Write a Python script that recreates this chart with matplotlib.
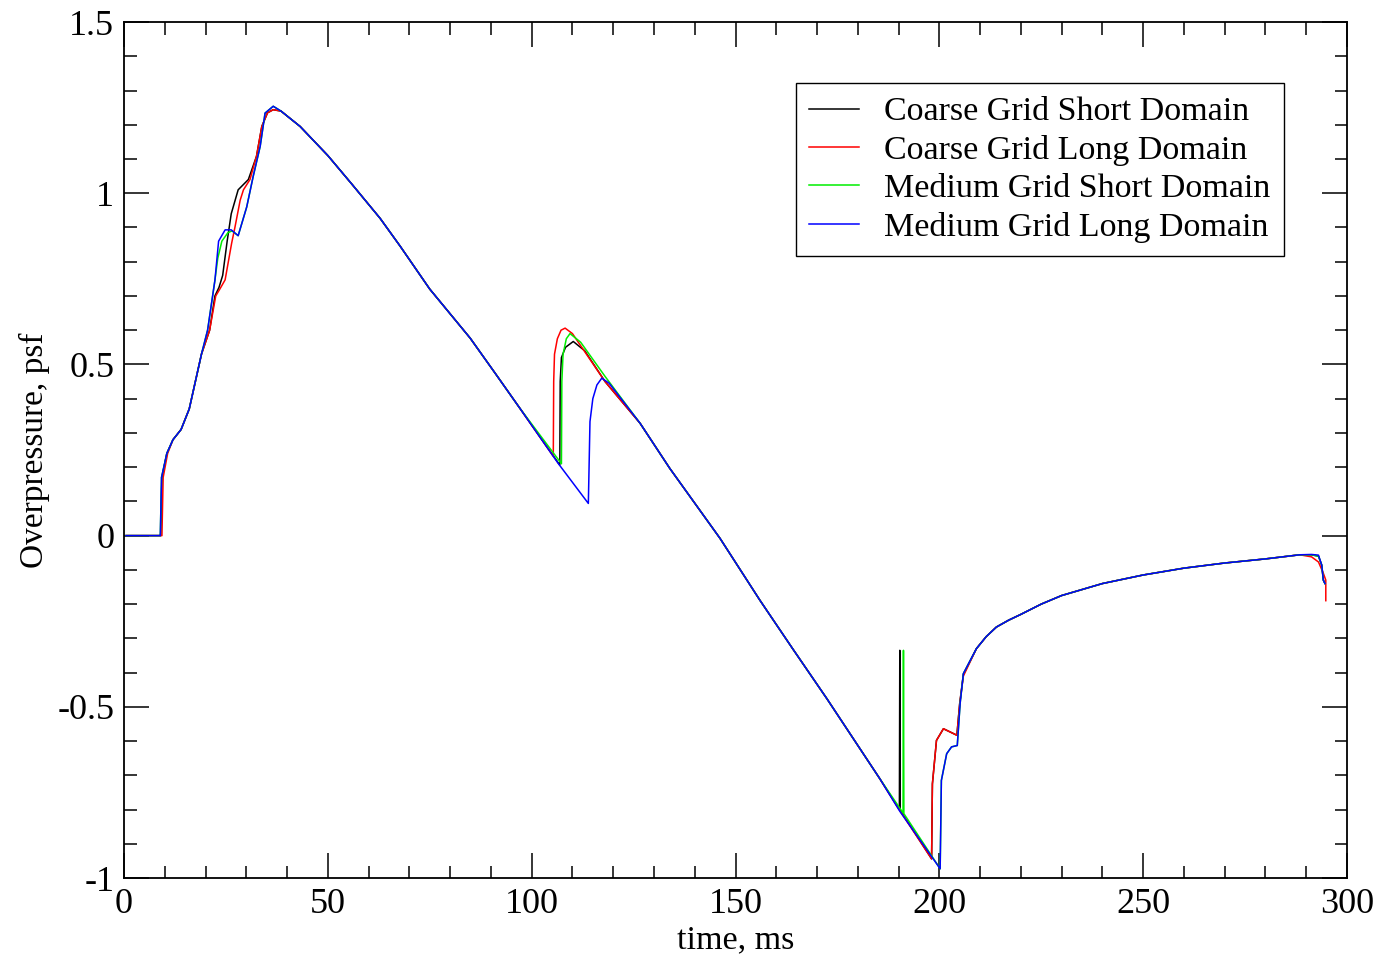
import numpy as np
import matplotlib
matplotlib.use('Agg')
import matplotlib.pyplot as plt
from matplotlib.ticker import MultipleLocator

# --- Dados (tempo em ms, sobrepressão em psf) ---

# troço inicial comum (antes da chegada da onda)
t_start = [0.5, 8.8]
p_start = [0.0, 0.0]

# descida comum depois do pico principal
t_desc1 = [38.5, 43.2, 50.0, 56.0, 62.8, 67.7, 75.0, 84.9, 91.0, 97.1]
p_desc1 = [1.240, 1.195, 1.110, 1.025, 0.927, 0.846, 0.720, 0.577, 0.475, 0.372]

# descida comum depois do segundo pulso
t_desc2 = [126.6, 133.9, 146.2, 156.0, 164.0, 172.4, 185.4]
p_desc2 = [0.328, 0.196, -0.008, -0.189, -0.330, -0.476, -0.710]

# recuperação comum (fase negativa)
t_tail = [209.1, 211.5, 214.0, 217.0, 220.0, 225.0, 230.0, 240.0, 250.0, 260.0,
          270.0, 280.0, 288.4]
p_tail = [-0.330, -0.295, -0.267, -0.247, -0.230, -0.200, -0.175, -0.140, -0.115,
          -0.095, -0.080, -0.068, -0.056]

# Coarse Grid Short Domain
t_cs_rise = [9.0, 9.3, 10.5, 12.0, 14.0, 16.0, 17.5, 19.0, 21.0, 22.3, 23.3, 24.2,
             25.3, 26.3, 28.0, 30.5, 32.5, 33.8, 35.2, 36.6]
p_cs_rise = [0.0, 0.17, 0.24, 0.28, 0.31, 0.37, 0.45, 0.53, 0.60, 0.70, 0.725, 0.76,
             0.86, 0.94, 1.01, 1.04, 1.108, 1.195, 1.235, 1.244]
t_cs_pulse = [106.9, 107.0, 107.3, 108.3, 110.2, 113.0, 118.0]
p_cs_pulse = [0.206, 0.45, 0.52, 0.55, 0.567, 0.540, 0.450]
t_cs_neg = [190.2, 190.3, 190.4, 198.1, 198.3, 199.3, 201.0, 204.3, 205.0, 205.9]
p_cs_neg = [-0.800, -0.335, -0.802, -0.944, -0.725, -0.598, -0.564, -0.583, -0.490, -0.405]
t_cs_end = [291.3, 293.0, 293.8, 294.2, 294.6]
p_cs_end = [-0.056, -0.060, -0.086, -0.130, -0.140]

# Coarse Grid Long Domain
t_cl_rise = [9.3, 9.6, 10.7, 12.0, 14.0, 16.0, 17.5, 19.0, 21.0, 22.5, 23.5, 24.8,
             26.4, 27.2, 28.5, 29.3, 30.9, 32.5, 33.8, 35.2, 36.6]
p_cl_rise = [0.0, 0.17, 0.24, 0.28, 0.31, 0.37, 0.45, 0.53, 0.60, 0.70, 0.72, 0.747,
             0.854, 0.90, 0.98, 1.01, 1.04, 1.108, 1.195, 1.235, 1.244]
t_cl_pulse = [105.3, 105.4, 105.6, 106.3, 107.2, 108.2, 110.0, 114.0, 118.0]
p_cl_pulse = [0.232, 0.45, 0.53, 0.575, 0.600, 0.606, 0.590, 0.520, 0.450]
t_cl_neg = [190.3, 198.1, 198.3, 199.3, 201.0, 204.3, 205.0, 205.9]
p_cl_neg = [-0.803, -0.944, -0.725, -0.598, -0.564, -0.583, -0.490, -0.410]
t_cl_end = [291.3, 293.0, 294.2, 294.8, 294.8]
p_cl_end = [-0.062, -0.077, -0.110, -0.130, -0.190]

# Medium Grid Short Domain
t_ms_rise = [8.9, 9.2, 10.5, 12.0, 14.0, 16.0, 17.5, 19.0, 20.5, 22.3, 23.0, 24.0,
             25.5, 26.5, 28.0, 30.1, 31.7, 33.4, 34.6, 36.6]
p_ms_rise = [0.0, 0.17, 0.24, 0.28, 0.31, 0.37, 0.45, 0.53, 0.60, 0.746, 0.81, 0.86,
             0.885, 0.89, 0.876, 0.96, 1.05, 1.137, 1.234, 1.254]
t_ms_pulse = [107.3, 107.4, 107.7, 108.5, 109.4, 112.0, 118.0]
p_ms_pulse = [0.210, 0.45, 0.53, 0.575, 0.590, 0.565, 0.465]
t_ms_neg = [191.1, 191.2, 191.3, 200.2, 200.5, 201.8, 203.0, 204.4, 205.1, 205.9]
p_ms_neg = [-0.810, -0.335, -0.812, -0.973, -0.715, -0.637, -0.617, -0.613, -0.490, -0.403]
t_ms_end = [291.3, 293.0, 293.8, 294.2, 294.6]
p_ms_end = [-0.056, -0.060, -0.086, -0.130, -0.140]

# Medium Grid Long Domain
t_ml_rise = [8.9, 9.2, 10.5, 12.0, 14.0, 16.0, 17.5, 19.0, 20.5, 22.3, 23.2, 24.8,
             26.3, 28.0, 30.1, 31.7, 33.4, 34.6, 36.6]
p_ml_rise = [0.0, 0.17, 0.24, 0.28, 0.31, 0.37, 0.45, 0.53, 0.60, 0.746, 0.86, 0.893,
             0.893, 0.876, 0.96, 1.05, 1.137, 1.234, 1.254]
t_ml_pulse = [106.5, 113.9, 114.3, 115.0, 116.0, 117.2, 119.0]
p_ml_pulse = [0.211, 0.094, 0.333, 0.400, 0.440, 0.460, 0.445]
t_ml_neg = [190.3, 200.2, 200.5, 201.8, 203.0, 204.4, 205.1, 205.9]
p_ml_neg = [-0.805, -0.973, -0.715, -0.637, -0.617, -0.613, -0.490, -0.403]
t_ml_end = [291.3, 293.0, 293.8, 294.2, 294.6]
p_ml_end = [-0.055, -0.057, -0.086, -0.130, -0.140]

labels = ['Coarse Grid Short Domain', 'Coarse Grid Long Domain',
          'Medium Grid Short Domain', 'Medium Grid Long Domain']
colors = ['black', 'red', '#00ee00', 'blue']

series = [
    (t_start + t_cs_rise + t_desc1 + t_cs_pulse + t_desc2 + t_cs_neg + t_tail + t_cs_end,
     p_start + p_cs_rise + p_desc1 + p_cs_pulse + p_desc2 + p_cs_neg + p_tail + p_cs_end),
    (t_start + t_cl_rise + t_desc1 + t_cl_pulse + t_desc2 + t_cl_neg + t_tail + t_cl_end,
     p_start + p_cl_rise + p_desc1 + p_cl_pulse + p_desc2 + p_cl_neg + p_tail + p_cl_end),
    (t_start + t_ms_rise + t_desc1 + t_ms_pulse + t_desc2 + t_ms_neg + t_tail + t_ms_end,
     p_start + p_ms_rise + p_desc1 + p_ms_pulse + p_desc2 + p_ms_neg + p_tail + p_ms_end),
    (t_start + t_ml_rise + t_desc1 + t_ml_pulse + t_desc2 + t_ml_neg + t_tail + t_ml_end,
     p_start + p_ml_rise + p_desc1 + p_ml_pulse + p_desc2 + p_ml_neg + p_tail + p_ml_end),
]

# --- Gráfico ---
plt.rcParams['font.family'] = ['Liberation Serif', 'DejaVu Serif']

fig = plt.figure(figsize=(13.78, 9.58), dpi=100)
ax = fig.add_axes([0.09, 0.0835, 0.8875, 0.8935])

for (t, p), lab, c in zip(series, labels, colors):
    ax.plot(t, p, color=c, lw=1.1, label=lab)

ax.set_xlim(0, 300)
ax.set_ylim(-1, 1.5)
ax.xaxis.set_major_locator(MultipleLocator(50))
ax.xaxis.set_minor_locator(MultipleLocator(10))
ax.yaxis.set_major_locator(MultipleLocator(0.5))
ax.yaxis.set_minor_locator(MultipleLocator(0.1))
ax.set_yticks([-1, -0.5, 0, 0.5, 1, 1.5])
ax.set_yticklabels(['-1', '-0.5', '0', '0.5', '1', '1.5'])

ax.tick_params(which='both', direction='in', top=True, right=True,
               labelsize=26, width=1.1)
ax.tick_params(axis='x', pad=7)
ax.tick_params(axis='y', pad=7)
ax.tick_params(which='major', length=18)
ax.tick_params(which='minor', length=9)
for s in ax.spines.values():
    s.set_linewidth(1.3)

ax.set_xlabel('time, ms', fontsize=24.5, labelpad=3)
ax.set_ylabel('Overpressure, psf', fontsize=24, labelpad=5)

leg = ax.legend(loc='upper right', bbox_to_anchor=(0.9485, 0.9287), fontsize=24.5,
                fancybox=False, framealpha=1, edgecolor='black',
                handlelength=1.45, handletextpad=0.75, labelspacing=0.22,
                borderpad=0.4, borderaxespad=0)
leg.get_frame().set_linewidth(1.0)

plt.savefig('out.png', dpi=100)
